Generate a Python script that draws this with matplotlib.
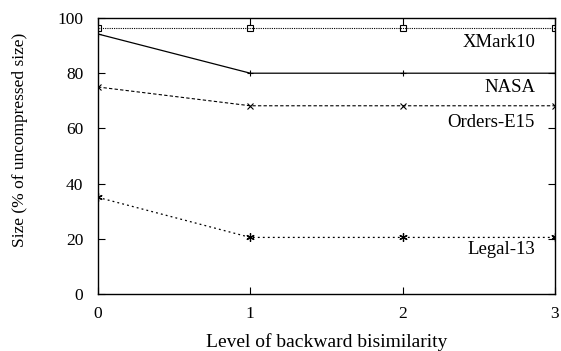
import numpy as np
import matplotlib
matplotlib.use('Agg')
import matplotlib.pyplot as plt

# bisimilarity levels and compressed sizes
levels = [0, 1, 2, 3]
xmark10 = [96.5, 96.5, 96.5, 96.5]
nasa = [94.2, 80.0, 80.0, 80.0]
orders_e15 = [75.0, 68.2, 68.2, 68.2]
legal_13 = [35.0, 20.5, 20.5, 20.5]

plt.rcParams['font.family'] = ['Liberation Serif', 'DejaVu Serif']

fig = plt.figure(figsize=(5.61, 3.51), dpi=100)
ax = fig.add_axes([0.1747, 0.1624, 0.8143, 0.7863])

ax.plot(levels, xmark10, color='black', linestyle=(0, (1, 1)), linewidth=0.8,
        marker='s', markersize=5, markerfacecolor='none', markeredgewidth=0.8)
ax.plot(levels, nasa, color='black', linestyle='-', linewidth=0.9,
        marker='+', markersize=5, markeredgewidth=0.8)
ax.plot(levels, orders_e15, color='black', linestyle=(0, (3, 2)), linewidth=0.8,
        marker='x', markersize=5, markeredgewidth=0.8)
ax.plot(levels, legal_13, color='black', linestyle=(0, (1.5, 2.5)), linewidth=0.9,
        marker=(6, 2, 0), markersize=6, markeredgewidth=0.9)

lab = dict(ha='right', va='center', fontsize=13.5)
ax.text(2.87, 91.3, 'XMark10', **lab)
ax.text(2.87, 75.0, 'NASA', **lab)
ax.text(2.87, 62.0, 'Orders-E15', **lab)
ax.text(2.87, 16.0, 'Legal-13', **lab)

ax.set_xlim(0, 3)
ax.set_ylim(0, 100)
ax.set_xticks(levels)
ax.set_yticks(np.arange(0, 101, 20))
ax.tick_params(direction='in', top=True, right=True, length=5, width=0.8,
               labelsize=12.5)
ax.tick_params(axis='x', pad=9)
ax.tick_params(axis='y', pad=10.5)
for s in ax.spines.values():
    s.set_linewidth(1.0)

ax.set_xlabel('Level of backward bisimilarity', fontsize=14, labelpad=7.5)
ax.set_ylabel('Size (% of uncompressed size)', fontsize=12.5)
ax.yaxis.set_label_coords(-0.153, 0.558)

fig.savefig('out.png', dpi=100)
